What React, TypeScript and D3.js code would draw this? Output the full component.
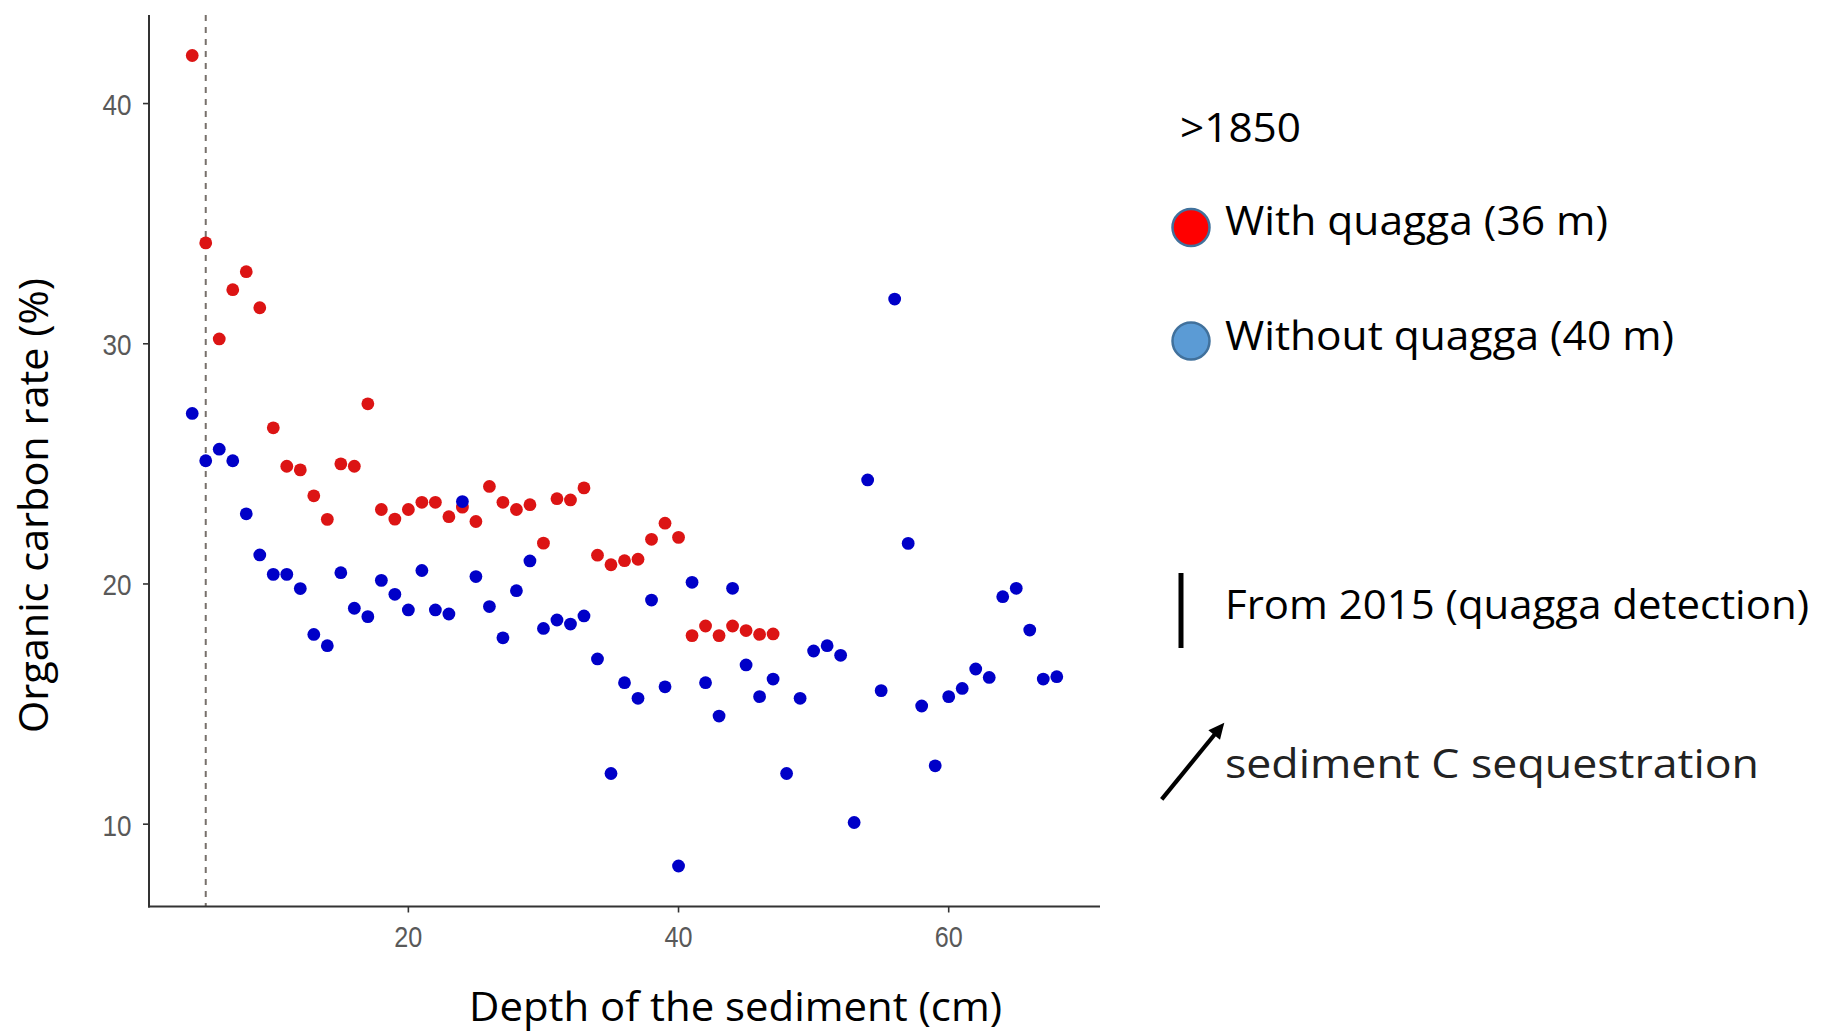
import React from "react";
import * as d3 from "d3";

// Depth (cm) and organic carbon rate (%) — with quagga (36 m)
const withDepth = [4, 5, 6, 7, 8, 9, 10, 11, 12, 13, 14, 15, 16, 17, 18, 19, 20, 21, 22, 23, 24, 25, 26, 27, 28, 29, 30, 31, 32, 33, 34, 35, 36, 37, 38, 39, 40, 41, 42, 43, 44, 45, 46, 47];
const withValue = [42.0, 34.2, 30.2, 32.25, 33.0, 31.5, 26.5, 24.9, 24.75, 23.67, 22.69, 25.0, 24.9, 27.5, 23.1, 22.7, 23.1, 23.4, 23.4, 22.8, 23.2, 22.6, 24.06, 23.4, 23.1, 23.3, 21.7, 23.55, 23.5, 24.0, 21.2, 20.8, 20.97, 21.03, 21.86, 22.53, 21.94, 17.85, 18.25, 17.85, 18.25, 18.06, 17.9, 17.92];

// Without quagga (40 m)
const withoutDepth = [4, 5, 6, 7, 8, 9, 10, 11, 12, 13, 14, 15, 16, 17, 18, 19, 20, 21, 22, 23, 24, 25, 26, 27, 28, 29, 30, 31, 32, 33, 34, 35, 36, 37, 38, 39, 40, 41, 42, 43, 44, 45, 46, 47, 48, 49, 50, 51, 52, 53, 54, 55, 56, 57, 58, 59, 60, 61, 62, 63, 64, 65, 66, 67, 68];
const withoutValue = [27.1, 25.13, 25.61, 25.13, 22.92, 21.21, 20.4, 20.4, 19.81, 17.9, 17.43, 20.47, 18.99, 18.64, 20.15, 19.57, 18.92, 20.56, 18.92, 18.75, 23.43, 20.31, 19.06, 17.76, 19.72, 20.96, 18.15, 18.5, 18.33, 18.67, 16.88, 12.11, 15.89, 15.24, 19.33, 15.72, 8.26, 20.07, 15.89, 14.5, 19.82, 16.63, 15.31, 16.04, 12.11, 15.24, 17.21, 17.43, 17.03, 10.07, 24.33, 15.56, 31.86, 21.69, 14.92, 12.43, 15.31, 15.65, 16.46, 16.11, 19.47, 19.82, 18.08, 16.04, 16.14];

const xTicks = [20, 40, 60];
const yTicks = [10, 20, 30, 40];
const detectionDepth = [5];

const xTitle = "Depth of the sediment (cm)";
const yTitle = "Organic carbon rate (%)";
const legendHeader = ">1850";
const legendLabels = ["With quagga (36 m)", "Without quagga (40 m)"];
const legendFills = ["#ff0000", "#5b9bd5"];
const lineNote = "From 2015 (quagga detection)";
const arrowNote = "sediment C sequestration";

export default function App() {
  const W = 1841;
  const H = 1034;
  const plot = { left: 149, right: 1100, top: 15, bottom: 906.5 };

  const allX = [...withDepth, ...withoutDepth];
  const allY = [...withValue, ...withoutValue];
  const [xa, xb] = d3.extent(allX) as [number, number];
  const [ya, yb] = d3.extent(allY) as [number, number];
  const xPad = (xb - xa) * 0.05;
  const yPad = (yb - ya) * 0.05;
  const x = d3.scaleLinear().domain([xa - xPad, xb + xPad]).range([plot.left, plot.right]);
  const y = d3.scaleLinear().domain([ya - yPad, yb + yPad]).range([plot.bottom, plot.top]);

  const red = "#dc1414";
  const blue = "#0000c8";
  const r = 6.4;
  const axisColor = "#333333";
  const tickColor = "#595959";
  const txtFont = "'Open Sans', sans-serif";
  const tickFont = "'Liberation Sans', Arial, sans-serif";

  // arrow geometry (annotation)
  const aStart = [1161.7, 799.3];
  const aTip = [1224.3, 722.7];
  const dx = aTip[0] - aStart[0];
  const dy = aTip[1] - aStart[1];
  const len = Math.hypot(dx, dy);
  const ux = dx / len, uy = dy / len;
  const headL = 16, headW = 7.5;
  const bx = aTip[0] - ux * headL, by = aTip[1] - uy * headL;
  const px = -uy, py = ux;
  const head = `M${aTip[0]},${aTip[1]} L${bx + px * headW},${by + py * headW} L${bx - px * headW},${by - py * headW} Z`;

  return (
    <svg width={W} height={H} style={{ position: "absolute", left: 0, top: 0, background: "#fff" }}>
      <rect x={0} y={0} width={W} height={H} fill="#fff" />

      {/* detection line */}
      {detectionDepth.map((d) => (
        <line key={"v" + d} x1={x(d)} x2={x(d)} y1={plot.top} y2={plot.bottom} stroke="#77706b" strokeWidth={2} strokeDasharray="6,6" />
      ))}

      {/* axes */}
      <line x1={plot.left} x2={plot.left} y1={plot.top} y2={plot.bottom + 1} stroke={axisColor} strokeWidth={2} />
      <line x1={plot.left - 1} x2={plot.right} y1={plot.bottom} y2={plot.bottom} stroke={axisColor} strokeWidth={2} />
      {yTicks.map((t) => (
        <g key={"yt" + t}>
          <line x1={plot.left - 6} x2={plot.left} y1={y(t)} y2={y(t)} stroke={axisColor} strokeWidth={1.6} />
          <text x={plot.left - 17.5} y={y(t) + 11.5} textAnchor="end" fontFamily={tickFont} fontSize={30} fill={tickColor} textLength={29} lengthAdjust="spacingAndGlyphs">{t}</text>
        </g>
      ))}
      {xTicks.map((t) => (
        <g key={"xt" + t}>
          <line x1={x(t)} x2={x(t)} y1={plot.bottom} y2={plot.bottom + 6} stroke={axisColor} strokeWidth={1.6} />
          <text x={x(t)} y={plot.bottom + 40} textAnchor="middle" fontFamily={tickFont} fontSize={30} fill={tickColor} textLength={28} lengthAdjust="spacingAndGlyphs">{t}</text>
        </g>
      ))}

      {/* points */}
      {withDepth.map((d, i) => (
        <circle key={"r" + i} cx={x(d)} cy={y(withValue[i])} r={r} fill={red} />
      ))}
      {withoutDepth.map((d, i) => (
        <circle key={"b" + i} cx={x(d)} cy={y(withoutValue[i])} r={r} fill={blue} />
      ))}

      {/* axis titles */}
      <text x={469} y={1021} fontFamily={txtFont} fontSize={41} fill="#000" textLength={533} lengthAdjust="spacingAndGlyphs">{xTitle}</text>
      <text transform="translate(48,733) rotate(-90)" x={0} y={0} fontFamily={txtFont} fontSize={41} fill="#000" textLength={455} lengthAdjust="spacingAndGlyphs">{yTitle}</text>

      {/* legend */}
      <text x={1180} y={142} fontFamily={txtFont} fontSize={41} fill="#000" textLength={121} lengthAdjust="spacingAndGlyphs">{legendHeader}</text>
      {legendLabels.map((lab, i) => (
        <g key={"lg" + i}>
          <circle cx={1191} cy={[227.5, 341][i]} r={18.5} fill={legendFills[i]} stroke="#41719c" strokeWidth={2.5} />
          <text x={1225} y={[235, 350][i]} fontFamily={txtFont} fontSize={41} fill="#000" textLength={[383, 449][i]} lengthAdjust="spacingAndGlyphs">{lab}</text>
        </g>
      ))}
      <line x1={1181} x2={1181} y1={573} y2={648} stroke="#000" strokeWidth={5} />
      <text x={1225} y={619} fontFamily={txtFont} fontSize={41} fill="#000" textLength={584} lengthAdjust="spacingAndGlyphs">{lineNote}</text>
      <line x1={aStart[0]} y1={aStart[1]} x2={bx + ux * 2} y2={by + uy * 2} stroke="#000" strokeWidth={4.2} />
      <path d={head} fill="#000" />
      <text x={1225} y={778} fontFamily={txtFont} fontSize={41} fill="#222" textLength={534} lengthAdjust="spacingAndGlyphs">{arrowNote}</text>
    </svg>
  );
}
